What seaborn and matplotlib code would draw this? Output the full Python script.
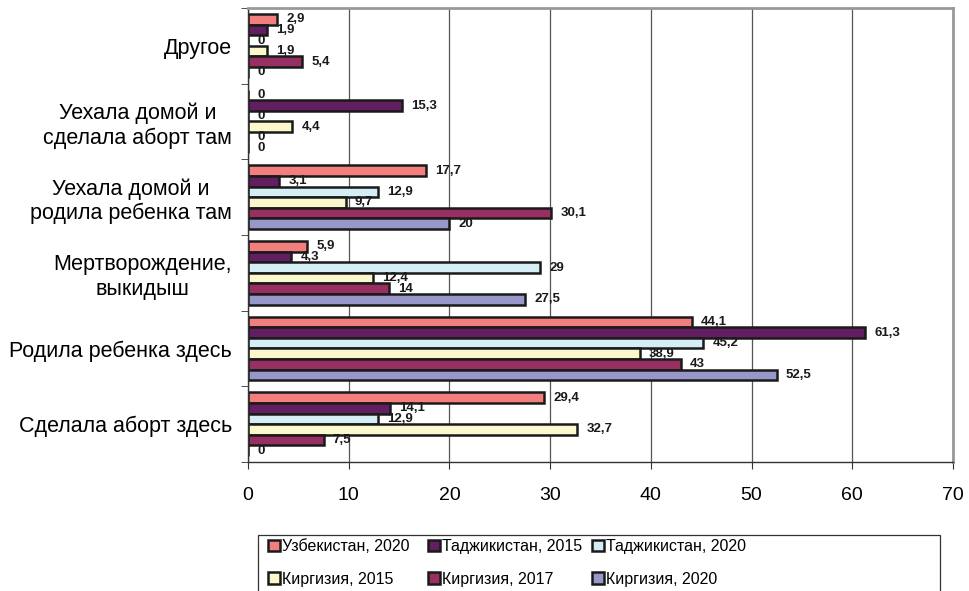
import pandas as pd
import numpy as np
import matplotlib
matplotlib.use('Agg')
import matplotlib.pyplot as plt
from matplotlib.patches import Rectangle
import seaborn as sns

# === данные ===
categories = ['Другое',
              'Уехала домой и\nсделала аборт там',
              'Уехала домой и\nродила ребенка там',
              'Мертворождение,\nвыкидыш',
              'Родила ребенка здесь',
              'Сделала аборт здесь']
series_names = ['Узбекистан, 2020', 'Таджикистан, 2015', 'Таджикистан, 2020',
                'Киргизия, 2015', 'Киргизия, 2017', 'Киргизия, 2020']

uzb_2020 = [2.9, 0, 17.7, 5.9, 44.1, 29.4]
taj_2015 = [1.9, 15.3, 3.1, 4.3, 61.3, 14.1]
taj_2020 = [0, 0, 12.9, 29, 45.2, 12.9]
kir_2015 = [1.9, 4.4, 9.7, 12.4, 38.9, 32.7]
kir_2017 = [5.4, 0, 30.1, 14, 43, 7.5]
kir_2020 = [0, 0, 20, 27.5, 52.5, 0]

colors = ['#F27E7E', '#621E61', '#D5EEF5', '#FCF8CD', '#972F63', '#9797CA']

values = [uzb_2020, taj_2015, taj_2020, kir_2015, kir_2017, kir_2020]
rows = []
for name, vals in zip(series_names, values):
    for cat, v in zip(categories, vals):
        rows.append({'cat': cat, 'series': name, 'value': v})
df = pd.DataFrame(rows)

plt.rcParams['font.family'] = ['Liberation Sans', 'DejaVu Sans']

W, H = 970, 591
fig = plt.figure(figsize=(W / 100, H / 100), dpi=100)
ax = fig.add_axes([0.2557, 0.2183, 0.7268, 0.7682])

sns.barplot(data=df, x='value', y='cat', hue='series', order=categories,
            hue_order=series_names, palette=colors, saturation=1, orient='h',
            width=0.84, edgecolor='#1a1a1a', linewidth=1.8, ax=ax, legend=True)

# подписи значений
for cont in ax.containers:
    for bar in cont:
        w = bar.get_width()
        txt = f'{w:g}'.replace('.', ',')
        ax.text(w + 0.9, bar.get_y() + bar.get_height() / 2, txt,
                va='center', ha='left', fontsize=9.5, fontweight='bold',
                color='#1a1a1a')

ax.set_xlim(0, 70)
ax.set_xticks(range(0, 71, 10))
ax.set_ylim(5.5, -0.5)
ax.xaxis.grid(True, color='#555555', linewidth=0.9)
ax.set_axisbelow(True)
ax.set_xlabel('')
ax.set_ylabel('')

ax.tick_params(axis='x', length=5, pad=13, labelsize=14, color='#333333')
ax.tick_params(axis='y', which='major', length=0, pad=11.5, labelsize=15.5)
ax.set_yticks(np.arange(-0.5, 6, 1), minor=True)
ax.tick_params(axis='y', which='minor', length=5, color='#333333')
for lbl in ax.get_yticklabels():
    lbl.set_multialignment('center')

for s in ['top', 'right']:
    ax.spines[s].set_color('#999999')
    ax.spines[s].set_linewidth(2)
for s in ['left', 'bottom']:
    ax.spines[s].set_color('#333333')
    ax.spines[s].set_linewidth(1)

# легенда: рамка + три колонки
handles, labels = ax.get_legend_handles_labels()
ax.get_legend().remove()
fig.patches.append(Rectangle((258 / W, -0.05), (940 - 258) / W, 0.05 + (H - 535) / H,
                             transform=fig.transFigure, fill=False,
                             edgecolor='#333333', linewidth=0.9))
col_x = [264, 424, 588]
for c, x in enumerate(col_x):
    idx = [c, c + 3]
    fig.legend([handles[i] for i in idx], [labels[i] for i in idx],
               loc='upper left', bbox_to_anchor=(x / W, (H - 535) / H),
               fontsize=11.5, frameon=False, handlelength=0.75, handleheight=0.75,
               handletextpad=0.15, borderaxespad=0, labelspacing=1.1,
               borderpad=0.25)

fig.savefig('out.png', dpi=100)
